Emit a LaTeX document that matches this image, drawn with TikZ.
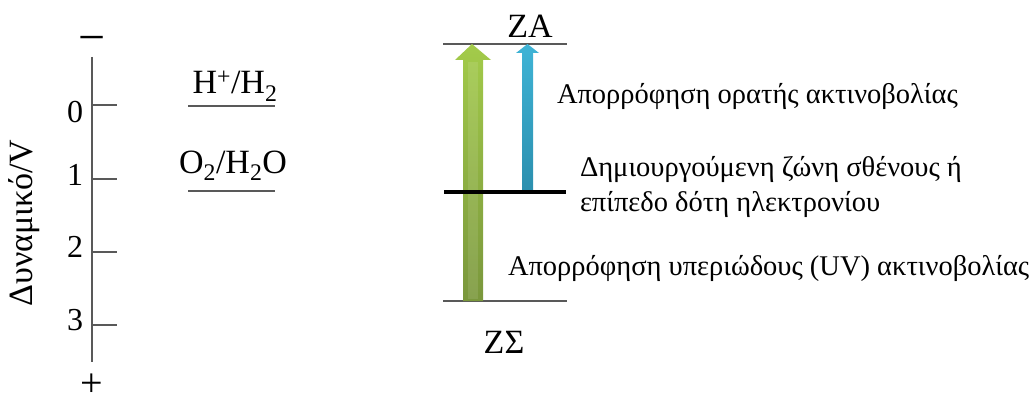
\documentclass[tikz,border=0pt]{standalone}
\usepackage{fontspec}
\setmainfont{Liberation Serif}
\definecolor{gtop}{HTML}{A3CB4A}
\definecolor{gbot}{HTML}{7A973C}
\definecolor{btop}{HTML}{3FB4D6}
\definecolor{bbot}{HTML}{2B8FAE}
\begin{document}
\begin{tikzpicture}[x=1pt,y=-1pt,
  txt/.style={inner sep=0pt,outer sep=0pt},
  big/.style={txt,font=\fontsize{34}{40}\selectfont},
  num/.style={txt,font=\fontsize{32}{38}\selectfont,anchor=base},
  desc/.style={txt,font=\fontsize{28.5}{35}\selectfont,anchor=base west},
  axisline/.style={draw=black!65,line width=2pt},
  level/.style={draw=black!65,line width=1.8pt}]
\useasboundingbox (0,0) rectangle (1035,401);
% axis
\coordinate (atop) at (92,57);
\coordinate (abot) at (92,362);
\draw[axisline] (atop) -- (abot);
\foreach \y/\n in {105/t0,179/t1,252/t2,325/t3}{
  \coordinate (\n a) at (92,\y);
  \coordinate (\n b) at (117,\y);
  \draw[axisline] (\n a) -- (\n b);
}
\node[num] (l0) at (75,123) {0};
\node[num] (l1) at (75,185) {1};
\node[num] (l2) at (75,257) {2};
\node[num] (l3) at (75,330) {3};
\node[txt,font=\fontsize{48}{52}\selectfont,anchor=base] (minus) at (92,54) {−};
\node[txt,font=\fontsize{40}{44}\selectfont,anchor=base] (plus) at (92,396) {+};
\node[txt,font=\fontsize{34}{40}\selectfont,rotate=90] (ylab) at (24,223) {Δυναμικό/V};
% redox couples
\node[big,anchor=base] (hh) at (235,94) {H\textsuperscript{+}/H\textsubscript{2}};
\coordinate (hl1) at (188,106);
\coordinate (hl2) at (275,106);
\draw[level] (hl1) -- (hl2);
\node[big,anchor=base] (oh) at (233,173) {O\textsubscript{2}/H\textsubscript{2}O};
\coordinate (ol1) at (188,191);
\coordinate (ol2) at (275,191);
\draw[level] (ol1) -- (ol2);
% bands
\coordinate (za1) at (443,44);
\coordinate (za2) at (567,44);
\coordinate (zs1) at (443,301);
\coordinate (zs2) at (567,301);
\draw[level] (za1) -- (za2);
\draw[level] (zs1) -- (zs2);
\node[big,anchor=base] (ZA) at (530,38) {ZA};
\node[big,anchor=base] (ZS) at (504,353) {ZΣ};
% green arrow
\shade[top color=gtop,bottom color=gbot]
  (463,301) -- (463,60) -- (455,60) -- (472,44) -- (491,60) -- (483,60) -- (483,301) -- cycle;
\fill[white,opacity=0.10] (468,299) rectangle (478,62);
% blue arrow
\shade[top color=btop,bottom color=bbot]
  (522,192) -- (522,53) -- (516,53) -- (527.5,44) -- (539,53) -- (533,53) -- (533,192) -- cycle;
% donor level
\coordinate (dl1) at (444,192);
\coordinate (dl2) at (566,192);
\draw[line width=4pt] (dl1) -- (dl2);
% descriptions
\node[desc] (vis) at (557,104) {Απορρόφηση ορατής ακτινοβολίας};
\node[desc] (don1) at (580,176) {Δημιουργούμενη ζώνη σθένους ή};
\node[desc] (don2) at (580,211) {επίπεδο δότη ηλεκτρονίου};
\node[desc] (uv) at (508,275) {Απορρόφηση υπεριώδους (UV) ακτινοβολίας};
\end{tikzpicture}
\end{document}
